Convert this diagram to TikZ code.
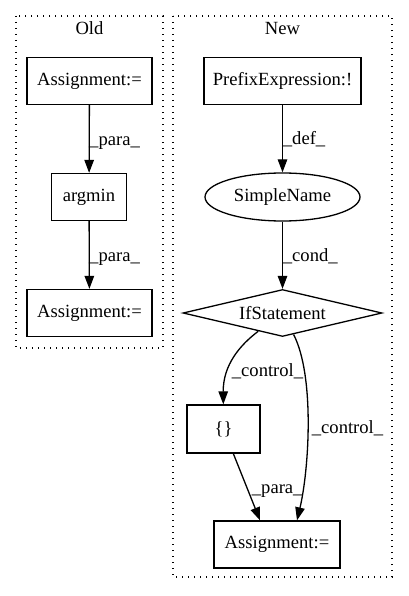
\documentclass[tikz,border=0pt]{standalone}
\usepackage{fontspec}
\setmainfont{Liberation Serif}
\usetikzlibrary{arrows.meta,shapes.geometric}
\begin{document}
\begin{tikzpicture}[x=1pt,y=-1pt,
  font=\fontsize{18.6}{22}\selectfont,
  every node/.style={inner sep=0pt},
  box/.style={draw,line width=1.3pt,rectangle,minimum height=47pt},
  ell/.style={draw,line width=1.3pt,ellipse,minimum width=155pt,minimum height=48pt},
  dia/.style={draw,line width=1.3pt,diamond,aspect=4.23,minimum width=199pt,minimum height=47pt},
  cluster/.style={draw,line width=1.3pt,dash pattern=on 1.4pt off 4.6pt},
  edge/.style={line width=1.3pt,-{Triangle[length=13pt,width=9.5pt]}},
  lbl/.style={anchor=base west}]
\useasboundingbox (0,0) rectangle (408,596);
% clusters
\draw[cluster] (16,16) rectangle (163,348);
\draw[cluster] (173,16) rectangle (392,577);
\node[anchor=base] (oldt) at (89.5,35) {Old};
\node[anchor=base] (newt) at (282.5,35) {New};
% Old
\node[box,minimum width=125pt] (a1) at (89.5,81) {Assignment:=};
\node[box,minimum width=75pt] (am) at (89,197) {argmin};
\node[box,minimum width=125pt] (a2) at (89.5,313) {Assignment:=};
\draw[edge] (a1) -- (am);
\draw[edge] (am) -- (a2);
\node[lbl] (l1) at (89,146) {\_para\_};
\node[lbl] (l2) at (89,261) {\_para\_};
% New
\node[box,minimum width=157pt] (pe) at (282.5,81) {PrefixExpression:!};
\node[ell] (sn) at (282.5,197) {SimpleName};
\node[dia] (if) at (282.5,313) {IfStatement};
\node[box,minimum width=73pt,minimum height=48pt] (br) at (223.5,429) {\{\}};
\node[box,minimum width=126pt] (a3) at (277,544.5) {Assignment:=};
\draw[edge] (pe) -- (sn);
\draw[edge] (sn) -- (if);
\draw[edge] (if) .. controls (240,345) and (223,365) .. (br);
\draw[edge] (if) .. controls (315,376) and (309,470) .. ([xshift=20pt]a3.north);
\draw[edge] (br) -- ([xshift=-17pt]a3.north);
\node[lbl] (l3) at (282.7,145) {\_def\_};
\node[lbl] (l4) at (282.7,261) {\_cond\_};
\node[lbl] (l5) at (231.7,376) {\_control\_};
\node[lbl] (l6) at (311.7,433) {\_control\_};
\node[lbl] (l7) at (251.7,493) {\_para\_};
\end{tikzpicture}
\end{document}
